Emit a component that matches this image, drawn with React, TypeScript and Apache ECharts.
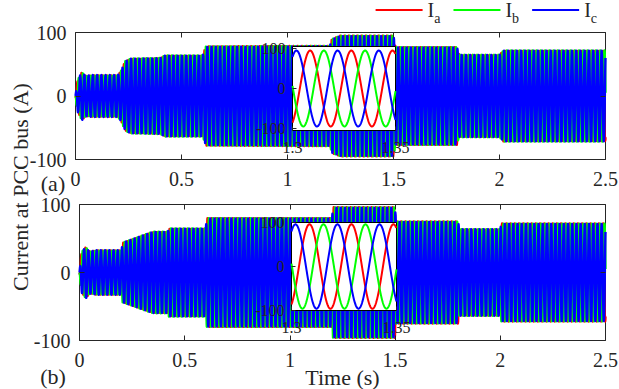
import { useEffect, useRef } from 'react';
import * as echarts from 'echarts';

const FONT = 'Liberation Serif';
const INK = '#262626';

// Three-phase line currents at the PCC bus (50 Hz carrier)
const FREQ_HZ = 50;
const PHASE_NAMES = ['Ia', 'Ib', 'Ic'];
const PHASE_COLORS = ['#ff0000', '#00ff00', '#0000ff'];
const PHASE_DEG = [-64, -184, 56];

// Peak-current envelope of case (a): breakpoints in seconds and amperes
const ENV_A_TIME = [0, 0.01, 0.03, 0.05, 0.08, 0.2, 0.215, 0.235, 0.26, 0.4, 0.42, 0.6, 0.615, 1.2, 1.21, 1.25, 1.5, 1.51, 1.8, 1.81, 2.0, 2.02, 2.5];
const ENV_A_AMP = [0, 25, 38, 32, 33, 33, 40, 55, 59, 60, 64, 64, 78, 79, 90, 95, 95, 77, 77, 65, 65, 72, 72];

// Peak-current envelope of case (b)
const ENV_B_TIME = [0, 0.01, 0.03, 0.05, 0.08, 0.2, 0.205, 0.33, 0.35, 0.42, 0.425, 0.6, 0.605, 1.2, 1.205, 1.5, 1.505, 1.8, 1.805, 2.0, 2.005, 2.5];
const ENV_B_AMP = [0, 30, 38, 31, 33, 33, 44, 58, 60, 60, 65, 65, 80, 80, 96, 96, 75, 75, 64, 64, 72, 72];

const TIME_RANGE = [0, 2.5];
const TIME_STEP = 0.5;
const CURRENT_RANGE = [-100, 100];
const CURRENT_STEP = 100;
const ZOOM_RANGE = [1.3, 1.35];
const ZOOM_TICKS = [1.3, 1.35];
const ZOOM_Y_TICKS = [-100, 0, 100];

function envelopeAt(times: number[], amps: number[], t: number): number {
  if (t <= times[0]) return amps[0];
  for (let i = 1; i < times.length; i++) {
    if (t <= times[i]) {
      const f = (t - times[i - 1]) / (times[i] - times[i - 1]);
      return amps[i - 1] + f * (amps[i] - amps[i - 1]);
    }
  }
  return amps[amps.length - 1];
}

function buildWave(times: number[], amps: number[], phaseDeg: number, t0: number, t1: number, dt: number) {
  const pts: number[][] = [];
  const n = Math.round((t1 - t0) / dt);
  const ph = (phaseDeg * Math.PI) / 180;
  for (let i = 0; i <= n; i++) {
    const t = t0 + i * dt;
    const v = envelopeAt(times, amps, t) * Math.sin(2 * Math.PI * FREQ_HZ * t + ph);
    pts.push([+t.toFixed(5), +v.toFixed(3)]);
  }
  return pts;
}

const tickLabel = { fontFamily: FONT, fontSize: 20, color: INK };
const hiddenLine = { show: false, onZero: false };
const inTick = (length: number, extra: object = {}) => ({ show: true, inside: true, length, lineStyle: { color: INK }, ...extra });

function mainAxes(grid: number, withName: boolean) {
  const x = [
    {
      type: 'value', gridIndex: grid, position: 'bottom',
      min: TIME_RANGE[0], max: TIME_RANGE[1], interval: TIME_STEP,
      axisLine: hiddenLine,
      axisTick: inTick(5),
      axisLabel: { ...tickLabel, margin: 9, showMinLabel: true, showMaxLabel: true },
      splitLine: { show: false },
      z: 3,
      ...(withName
        ? {
            name: 'Time (s)', nameLocation: 'middle', nameGap: 26, nameMoveOverlap: false,
            nameTextStyle: { fontFamily: FONT, fontSize: 22, color: INK, verticalAlign: 'top', lineHeight: 22 },
          }
        : {}),
    },
    {
      type: 'value', gridIndex: grid, position: 'top',
      min: TIME_RANGE[0], max: TIME_RANGE[1], interval: TIME_STEP,
      axisLine: hiddenLine,
      axisTick: inTick(5),
      axisLabel: { show: false },
      splitLine: { show: false },
      z: 3,
    },
  ];
  const y = [
    {
      type: 'value', gridIndex: grid, position: 'left',
      min: CURRENT_RANGE[0], max: CURRENT_RANGE[1], interval: CURRENT_STEP,
      axisLine: hiddenLine,
      axisTick: inTick(5),
      axisLabel: { ...tickLabel, margin: 9 },
      splitLine: { show: false },
      z: 3,
    },
    {
      type: 'value', gridIndex: grid, position: 'right',
      min: CURRENT_RANGE[0], max: CURRENT_RANGE[1], interval: CURRENT_STEP,
      axisLine: hiddenLine,
      axisTick: inTick(5),
      axisLabel: { show: false },
      splitLine: { show: false },
      z: 3,
    },
  ];
  return { x, y };
}

function zoomAxes(grid: number, yMin: number, yMax: number) {
  const x = {
    type: 'value', gridIndex: grid, position: 'bottom',
    min: ZOOM_RANGE[0], max: ZOOM_RANGE[1],
    axisLine: hiddenLine,
    axisTick: inTick(4, { customValues: ZOOM_TICKS }),
    axisLabel: { fontFamily: FONT, fontSize: 16, color: INK, margin: 9, customValues: ZOOM_TICKS, formatter: (v: number) => String(+v.toFixed(2)) },
    splitLine: { show: false },
    z: 12,
  };
  const y = {
    type: 'value', gridIndex: grid, position: 'left',
    min: yMin, max: yMax,
    axisLine: hiddenLine,
    axisTick: inTick(4, { customValues: ZOOM_Y_TICKS }),
    axisLabel: { fontFamily: FONT, fontSize: 16, color: INK, margin: 7, customValues: ZOOM_Y_TICKS },
    splitLine: { show: false },
    z: 12,
  };
  return { x, y };
}

export default function App() {
  const ref = useRef<HTMLDivElement>(null);

  useEffect(() => {
    if (!ref.current) return;
    const chart = echarts.init(ref.current, undefined, { renderer: 'svg' });

    const a = mainAxes(0, false);
    const b = mainAxes(1, true);
    const za = zoomAxes(2, -105, 105);
    const zb = zoomAxes(3, -100, 100);

    const series: any[] = [];
    const envs = [
      { times: ENV_A_TIME, amps: ENV_A_AMP },
      { times: ENV_B_TIME, amps: ENV_B_AMP },
    ];
    envs.forEach((env, k) => {
      PHASE_NAMES.forEach((name, p) => {
        series.push({
          name, type: 'line', xAxisIndex: k * 2, yAxisIndex: k * 2,
          data: buildWave(env.times, env.amps, PHASE_DEG[p], TIME_RANGE[0], TIME_RANGE[1], 0.0005),
          showSymbol: false, symbol: 'none', silent: true, z: 2,
          color: PHASE_COLORS[p],
          lineStyle: { color: PHASE_COLORS[p], width: 2.4, join: 'round' },
        });
      });
    });
    envs.forEach((env, k) => {
      PHASE_NAMES.forEach((name, p) => {
        series.push({
          name, type: 'line', xAxisIndex: 4 + k, yAxisIndex: 4 + k,
          data: buildWave(env.times, env.amps, PHASE_DEG[p], ZOOM_RANGE[0], ZOOM_RANGE[1], 0.0001),
          showSymbol: false, symbol: 'none', silent: true, z: 11,
          color: PHASE_COLORS[p],
          lineStyle: { color: PHASE_COLORS[p], width: 2, join: 'round' },
        });
      });
    });

    const gridBase = { show: true, containLabel: false, outerBoundsMode: 'none', borderColor: INK, borderWidth: 1 };
    const caption = (text: string, x: number, y: number) => ({
      type: 'text', x, y,
      style: { text, fontFamily: FONT, fontSize: 22, fill: INK, align: 'center', verticalAlign: 'middle' },
    });

    chart.setOption({
      animation: false,
      backgroundColor: '#ffffff',
      textStyle: { fontFamily: FONT },
      grid: [
        { ...gridBase, left: 75.5, top: 32.5, width: 530, height: 127, backgroundColor: 'transparent', z: 1 },
        { ...gridBase, left: 79.5, top: 204.5, width: 526, height: 136, backgroundColor: 'transparent', z: 1 },
        { ...gridBase, left: 292.5, top: 46.5, width: 103, height: 84, backgroundColor: '#ffffff', borderColor: '#000', z: 10 },
        { ...gridBase, left: 291.5, top: 222.5, width: 105, height: 88, backgroundColor: '#ffffff', borderColor: '#000', z: 10 },
      ],
      xAxis: [...a.x, ...b.x, za.x, zb.x],
      yAxis: [...a.y, ...b.y, za.y, zb.y],
      legend: {
        data: PHASE_NAMES,
        right: 22, top: 0, padding: 0,
        icon: 'rect', itemWidth: 47, itemHeight: 2, itemGap: 13,
        selectedMode: false,
        formatter: (name: string) => `{n|I}{s|${name.slice(1)}}`,
        textStyle: {
          color: INK,
          fontFamily: FONT,
          rich: {
            n: { fontFamily: FONT, fontSize: 20, color: INK },
            s: { fontFamily: FONT, fontSize: 14, color: INK, padding: [17, 0, 0, 0] },
          },
        },
      },
      graphic: [
        {
          type: 'text', x: 20, y: 187, rotation: Math.PI / 2,
          style: { text: 'Current at PCC bus (A)', fontFamily: FONT, fontSize: 22, fill: INK, align: 'center', verticalAlign: 'middle' },
        },
        caption('(a)', 53, 183),
        caption('(b)', 53, 376),
      ],
      series,
    });

    return () => chart.dispose();
  }, []);

  return <div ref={ref} style={{ position: 'fixed', left: 0, top: 0, width: 619, height: 389 }} />;
}
